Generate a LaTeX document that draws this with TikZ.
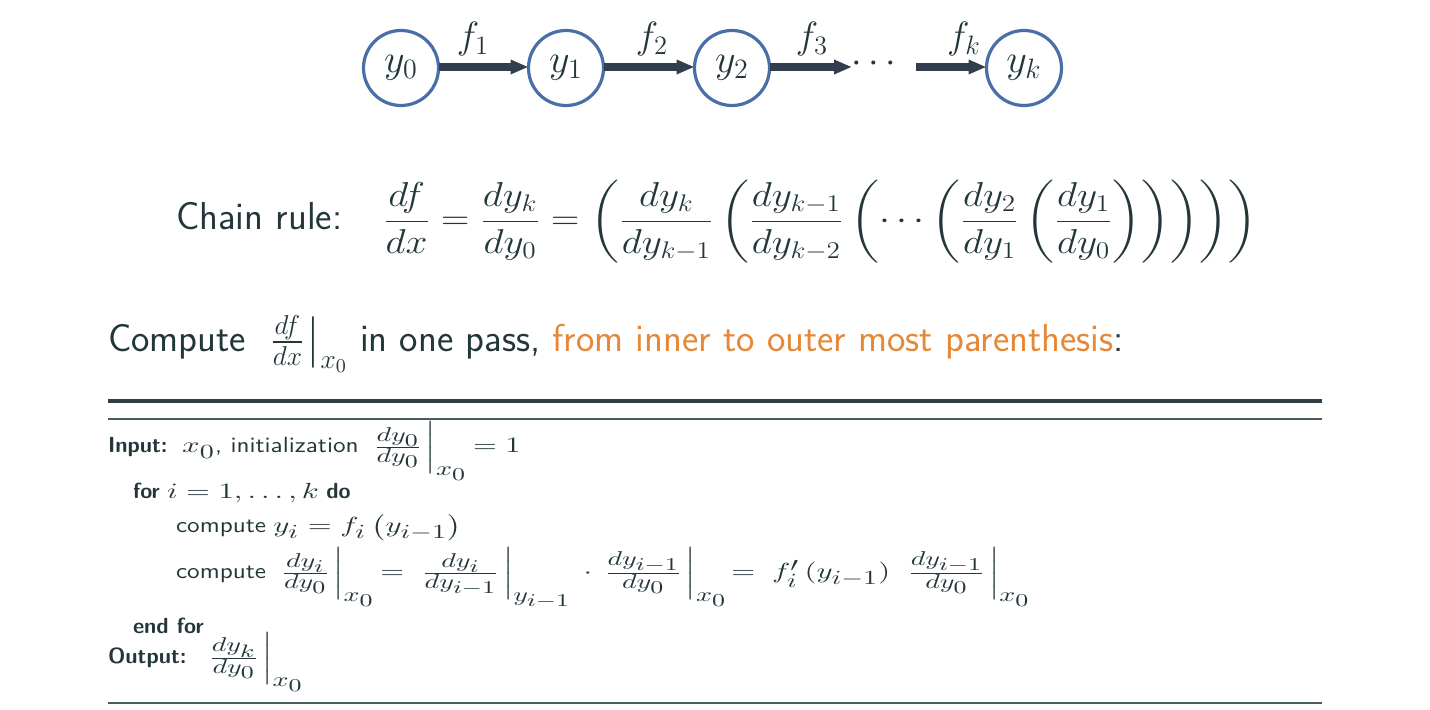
\RequirePackage{fix-cm}
\documentclass[tikz,border=0pt]{standalone}
\usepackage{amsmath}
\usetikzlibrary{arrows.meta}
\DeclareMathSizes{10.95}{10.95}{10}{9}
\definecolor{txt}{HTML}{23373B}
\definecolor{orng}{HTML}{E4893A}
\definecolor{circ}{HTML}{4A6EA8}
\definecolor{arr}{HTML}{323E4E}
\definecolor{rulec}{HTML}{2F3E42}
\definecolor{rulel}{HTML}{4A5A5E}
\newcommand{\stx}[1]{\scalebox{1.15}[1]{#1}}
\newcommand{\smx}[1]{\scalebox{1.4}[1]{$#1$}}
\newcommand{\evb}[1]{\mkern-3mu\left.\rule[-10.8pt]{0pt}{27pt}\right|_{#1}}
\newcommand{\evm}[1]{\mkern-3mu\left.\rule[-7pt]{0pt}{24.5pt}\right|_{#1}}
\tikzset{
  maintext/.style={font=\fontsize{19.5}{23}\selectfont\sffamily, anchor=base west, text=txt},
  eqtext/.style={font=\fontsize{17.28}{21}\selectfont, anchor=base west, text=txt},
  algtext/.style={font=\fontsize{10.95}{13}\selectfont\sffamily, anchor=base west, text=txt},
  vnode/.style={circle, draw=circ, line width=1.6pt, minimum size=37.5pt, font=\fontsize{20}{22}\selectfont, text=txt},
  flabel/.style={anchor=base, font=\fontsize{19}{21}\selectfont, text=txt},
  edgearrow/.style={draw=arr, line width=3.6pt, -{Triangle[length=9pt,width=6.8pt]}},
}
\begin{document}
\begin{tikzpicture}[x=0.5pt,y=-0.5pt, every node/.style={inner sep=0pt, outer sep=0pt}]
\useasboundingbox (0,0) rectangle (1430,710);
% chain graph
\node[vnode] (y0) at (401,68) {$y_0$};
\node[vnode] (y1) at (566,68) {$y_1$};
\node[vnode] (y2) at (732,68) {$y_2$};
\node[vnode] (yk) at (1024,68) {$y_k$};
\node[flabel] (dots) at (877,73) {$\cdots$};
\coordinate (d1) at (852,67);
\coordinate (d2) at (916,67);
\draw[edgearrow] (y0.east |- d1) -- (y1.west |- d1);
\draw[edgearrow] (y1.east |- d1) -- (y2.west |- d1);
\draw[edgearrow] (y2.east |- d1) -- (d1);
\draw[edgearrow] (d2) -- (yk.west |- d2);
\node[flabel] (f1) at (473,49) {$f_1$};
\node[flabel] (f2) at (652,49) {$f_2$};
\node[flabel] (f3) at (812,49) {$f_3$};
\node[flabel] (fk) at (964,49) {$f_k$};
% chain rule
\node[maintext] (chain) at (176,230) {Chain rule:};
\node[eqtext] (eq) at (383,230) {\scalebox{1.135}[1]{$\displaystyle \frac{df}{dx} = \frac{dy_k}{dy_0} = \left(\frac{dy_k}{dy_{k-1}}\left(\frac{dy_{k-1}}{dy_{k-2}}\left(\cdots\left(\frac{dy_2}{dy_1}\left(\frac{dy_1}{dy_0}\right)\right)\right)\right)\right)$}};
% compute line
\node[maintext] (comp) at (108,352) {Compute \ $\frac{df}{dx}\evm{x_0}$ in one pass, \textcolor{orng}{from inner to outer most parenthesis}:};
% rules
\draw[rulec, line width=2pt] (108,401) -- (1322,401);
\draw[rulel, line width=1pt] (108,419) -- (1322,419);
\draw[rulel, line width=1pt] (108,703) -- (1322,703);
% algorithm
\node[algtext] (in) at (108,453) {\textbf{Input:}\ \ \smx{x_0}\stx{, initialization}\ \ \smx{\frac{dy_0}{dy_0}\evb{x_0} \mkern-2mu= 1}};
\node[algtext] (for) at (133,499) {\textbf{for} \smx{i=1,\ldots,k} \textbf{do}};
\node[algtext] (c1) at (176,533) {\stx{compute} \smx{y_i = f_i\left(y_{i-1}\right)}};
\node[algtext] (c2) at (176,579) {\stx{compute}\ \ \smx{\frac{dy_i}{dy_0}\evb{x_0} \mkern-2mu= \; \frac{dy_i}{dy_{i-1}}\evb{y_{i-1}} \,\cdot\, \frac{dy_{i-1}}{dy_0}\evb{x_0} \mkern-3mu= \; f_i'\,(y_{i-1})\;\; \frac{dy_{i-1}}{dy_0}\evb{x_0}}};
\node[algtext] (ef) at (133,634) {\textbf{end for}};
\node[algtext] (out) at (108,664) {\textbf{Output:}\ \ \ \smx{\frac{dy_k}{dy_0}\evb{x_0}}};
\end{tikzpicture}
\end{document}
